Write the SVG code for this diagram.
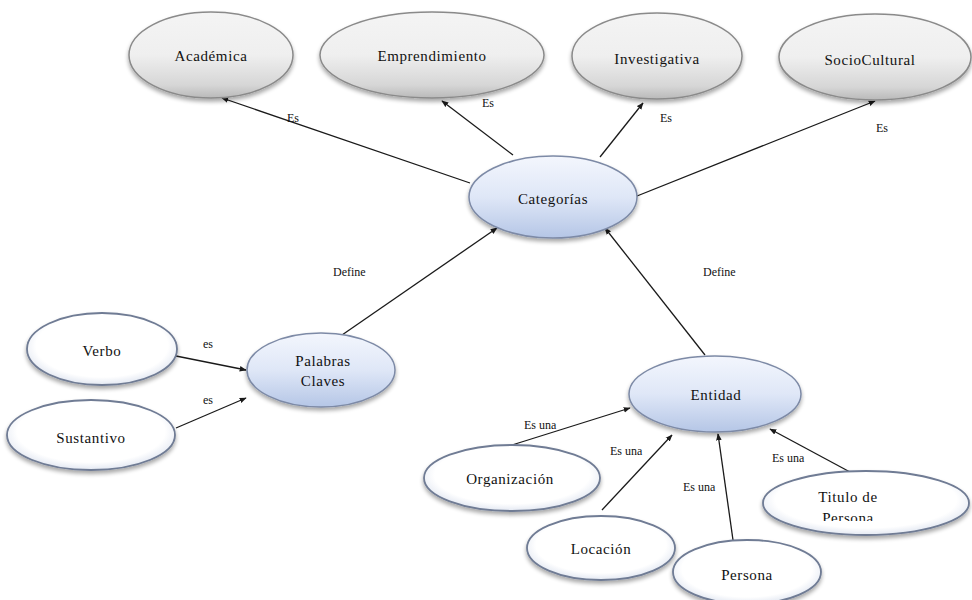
<svg xmlns="http://www.w3.org/2000/svg" width="972" height="600" viewBox="0 0 972 600">
  <defs>
    <linearGradient id="gGray" x1="0" y1="0" x2="0" y2="1">
      <stop offset="0" stop-color="#f4f4f4"/>
      <stop offset="0.5" stop-color="#efefef"/>
      <stop offset="0.85" stop-color="#d6d6d6"/>
      <stop offset="1" stop-color="#b9b9b9"/>
    </linearGradient>
    <linearGradient id="gBlue" x1="0" y1="0" x2="0" y2="1">
      <stop offset="0" stop-color="#f3f6fd"/>
      <stop offset="0.5" stop-color="#dfe7f7"/>
      <stop offset="1" stop-color="#b5c6e6"/>
    </linearGradient>
    <radialGradient id="gWhite" cx="0.5" cy="0.45" r="0.55">
      <stop offset="0.8" stop-color="#ffffff"/>
      <stop offset="1" stop-color="#e3e8f2"/>
    </radialGradient>
    <filter id="shadow" x="-10%" y="-10%" width="120%" height="135%">
      <feGaussianBlur in="SourceAlpha" stdDeviation="2"/>
      <feOffset dx="0" dy="3" result="b"/>
      <feComponentTransfer><feFuncA type="linear" slope="0.35"/></feComponentTransfer>
      <feMerge><feMergeNode/><feMergeNode in="SourceGraphic"/></feMerge>
    </filter>
    <marker id="arrow" viewBox="0 0 10 10" refX="9" refY="5" markerWidth="7" markerHeight="7" orient="auto" markerUnits="userSpaceOnUse">
      <path d="M0,1 L10,5 L0,9 Z" fill="#1a1a1a"/>
    </marker>
    <clipPath id="clipTitulo"><rect x="760" y="470" width="212" height="51"/></clipPath>
    <clipPath id="clipEsOrg"><rect x="500" y="421" width="80" height="20"/></clipPath>
    <clipPath id="clipEsTit"><rect x="760" y="453" width="60" height="20"/></clipPath>
  </defs>
  <style>
    .gray { fill: url(#gGray); stroke: #8a8a8a; stroke-width: 1.5; filter: url(#shadow); }
    .blue { fill: url(#gBlue); stroke: #7d8aa6; stroke-width: 1.5; filter: url(#shadow); }
    .white { fill: url(#gWhite); stroke: #6f7b94; stroke-width: 1.8; filter: url(#shadow); }
    .label { font-family: "Liberation Serif", "DejaVu Serif", serif; font-size: 15px; fill: #111; text-anchor: middle; letter-spacing: 0.6px; }
    .edge { stroke: #1a1a1a; stroke-width: 1.3; fill: none; marker-end: url(#arrow); }
    .elabel { font-family: "Liberation Serif", "DejaVu Serif", serif; font-size: 12px; fill: #111; }
  </style>

  <!-- connectors -->
  <g id="connectors">
    <line class="edge" x1="470" y1="183" x2="222" y2="98"/>
    <line class="edge" x1="513" y1="155" x2="442" y2="101"/>
    <line class="edge" x1="600" y1="157" x2="643" y2="103"/>
    <line class="edge" x1="632" y1="198" x2="875" y2="101"/>
    <line class="edge" x1="342" y1="335" x2="497" y2="228"/>
    <line class="edge" x1="705" y1="355" x2="605" y2="228"/>
    <line class="edge" x1="176" y1="356" x2="246" y2="370"/>
    <line class="edge" x1="176" y1="428" x2="246" y2="398"/>
    <line class="edge" x1="512" y1="445" x2="630" y2="408"/>
    <line class="edge" x1="602" y1="510" x2="672" y2="435"/>
    <line class="edge" x1="733" y1="540" x2="718" y2="434"/>
    <line class="edge" x1="850" y1="472" x2="770" y2="429"/>

    <text class="elabel" x="287" y="122">Es</text>
    <text class="elabel" x="482" y="107">Es</text>
    <text class="elabel" x="660" y="122">Es</text>
    <text class="elabel" x="876" y="132">Es</text>
    <text class="elabel" x="333" y="276">Define</text>
    <text class="elabel" x="703" y="276">Define</text>
    <text class="elabel" x="203" y="348">es</text>
    <text class="elabel" x="203" y="404">es</text>
    <g clip-path="url(#clipEsOrg)"><text class="elabel" x="524" y="429">Es una</text></g>
    <text class="elabel" x="610" y="455">Es una</text>
    <text class="elabel" x="683" y="491">Es una</text>
    <g clip-path="url(#clipEsTit)"><text class="elabel" x="772" y="462">Es una</text></g>
  </g>

  <!-- category nodes -->
  <g id="n-academica">
    <ellipse class="gray" cx="211" cy="55" rx="82" ry="43"/>
    <text class="label" x="211" y="61">Académica</text>
  </g>
  <g id="n-emprendimiento">
    <ellipse class="gray" cx="432" cy="55" rx="112" ry="43"/>
    <text class="label" x="432" y="61">Emprendimiento</text>
  </g>
  <g id="n-investigativa">
    <ellipse class="gray" cx="657" cy="56" rx="85" ry="43"/>
    <text class="label" x="657" y="64">Investigativa</text>
  </g>
  <g id="n-sociocultural">
    <ellipse class="gray" cx="875" cy="57" rx="96" ry="43"/>
    <text class="label" x="870" y="65">SocioCultural</text>
  </g>

  <!-- central node -->
  <g id="n-categorias">
    <ellipse class="blue" cx="553" cy="197" rx="84" ry="41"/>
    <text class="label" x="553" y="204">Categorías</text>
  </g>

  <!-- keywords -->
  <g id="n-palabras">
    <ellipse class="blue" cx="321" cy="370" rx="74" ry="37"/>
    <text class="label" x="323" y="366">Palabras</text>
    <text class="label" x="323" y="386">Claves</text>
  </g>
  <g id="n-verbo">
    <ellipse class="white" cx="102" cy="349" rx="75" ry="36"/>
    <text class="label" x="102" y="356">Verbo</text>
  </g>
  <g id="n-sustantivo">
    <ellipse class="white" cx="91" cy="435" rx="84" ry="35"/>
    <text class="label" x="91" y="443">Sustantivo</text>
  </g>

  <!-- entity -->
  <g id="n-entidad">
    <ellipse class="blue" cx="715" cy="394" rx="86" ry="38"/>
    <text class="label" x="716" y="400">Entidad</text>
  </g>
  <g id="n-organizacion">
    <ellipse class="white" cx="512" cy="478" rx="88" ry="33"/>
    <text class="label" x="510" y="484">Organización</text>
  </g>
  <g id="n-locacion">
    <ellipse class="white" cx="601" cy="548" rx="74" ry="32"/>
    <text class="label" x="601" y="554">Locación</text>
  </g>
  <g id="n-persona">
    <ellipse class="white" cx="747" cy="572" rx="74" ry="32"/>
    <text class="label" x="747" y="580">Persona</text>
  </g>
  <g id="n-titulo">
    <ellipse class="white" cx="866" cy="503" rx="103" ry="32"/>
    <g clip-path="url(#clipTitulo)">
      <text class="label" x="848" y="502">Titulo de</text>
      <text class="label" x="848" y="523">Persona</text>
    </g>
  </g>
</svg>
